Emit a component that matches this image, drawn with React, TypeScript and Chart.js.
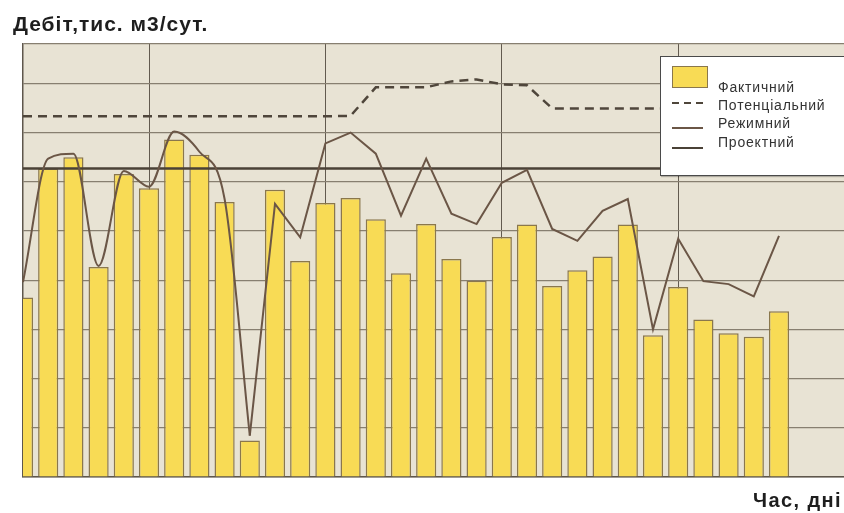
import React, { useEffect, useRef } from 'react';
import { Chart, registerables } from 'chart.js';

Chart.register(...registerables);

// Day labels (category axis); the plot runs past the right edge of the picture
const days: string[] = [
  '0', '1', '2', '3', '4', '5', '6', '7', '8', '9',
  '10', '11', '12', '13', '14', '15', '16', '17', '18', '19',
  '20', '21', '22', '23', '24', '25', '26', '27', '28', '29',
  '30', '31', '32', '33', '34', '35',
];

// Фактичний (bars)
const actual: number[] = [
  36.5, 62.7, 65.0, 42.7, 61.6, 58.7, 68.6, 65.5, 55.9, 7.4,
  58.4, 43.9, 55.7, 56.7, 52.4, 41.4, 51.4, 44.3, 39.9, 48.8,
  51.3, 38.8, 42.0, 44.8, 51.3, 28.8, 38.6, 32.0, 29.2, 28.5,
  33.7,
];

// Потенціальний (dashed)
const potential: number[] = [
  73.3, 73.3, 73.3, 73.3, 73.3, 73.3, 73.3, 73.3, 73.3, 73.3,
  73.3, 73.3, 73.3, 73.4, 79.2, 79.2, 79.2, 80.4, 80.8, 79.8,
  79.6, 74.9, 74.9, 74.9, 74.9, 74.9, 74.9, 74.9, 74.9, 74.9,
  74.9,
];

// Режимний (thin brown line)
const regime: number[] = [
  39.6, 64.7, 65.7, 42.9, 62.2, 59.0, 70.2, 66.1, 56.5, 8.4,
  55.5, 48.7, 67.8, 70.0, 65.7, 53.1, 64.7, 53.5, 51.4, 59.8,
  62.4, 50.4, 48.0, 54.1, 56.5, 30.0, 48.4, 39.8, 39.2, 36.7,
  49.0,
];

// Проектний (flat line)
const projected: number[] = [
  62.7, 62.7, 62.7, 62.7, 62.7, 62.7, 62.7, 62.7, 62.7, 62.7,
  62.7, 62.7, 62.7, 62.7, 62.7, 62.7, 62.7, 62.7, 62.7, 62.7,
  62.7, 62.7, 62.7, 62.7, 62.7, 62.7, 62.7, 62.7, 62.7, 62.7,
  62.7, 62.7, 62.7, 62.7, 62.7, 62.7,
];

const SMOOTH_END = 9; // the first part of the regime line is smoothed

const plotBg = {
  id: 'plotBg',
  beforeDraw(chart: any) {
    const { ctx, chartArea: a } = chart;
    ctx.save();
    ctx.fillStyle = '#e8e3d4';
    ctx.fillRect(a.left, a.top, a.right - a.left, a.bottom - a.top);
    ctx.restore();
  },
};

const legendText: React.CSSProperties = {
  position: 'absolute',
  left: 718,
  fontFamily: '"Liberation Sans", Arial, sans-serif',
  fontSize: 14,
  lineHeight: '14px',
  letterSpacing: 0.8,
  color: '#333',
  whiteSpace: 'nowrap',
};

export default function App() {
  const ref = useRef<HTMLCanvasElement | null>(null);

  useEffect(() => {
    if (!ref.current) return;
    const regimeSmooth = regime.map((v, i) => (i <= SMOOTH_END ? v : null));
    const regimeStraight = regime.map((v, i) => (i >= SMOOTH_END ? v : null));
    const chart = new Chart(ref.current, {
      type: 'bar',
      data: {
        labels: days,
        datasets: [
          {
            type: 'line',
            label: 'Потенціальний',
            data: potential,
            borderColor: '#4f463b',
            borderWidth: 2.5,
            borderDash: [9, 6],
            pointRadius: 0,
            tension: 0,
            order: 1,
          },
          {
            type: 'line',
            label: 'Проектний',
            data: projected,
            borderColor: '#4a4136',
            borderWidth: 2.5,
            pointRadius: 0,
            order: 2,
          },
          {
            type: 'line',
            label: 'Режимний',
            data: regimeSmooth,
            borderColor: '#6b5646',
            borderWidth: 2,
            pointRadius: 0,
            cubicInterpolationMode: 'monotone',
            order: 0,
          },
          {
            type: 'line',
            label: 'Режимний',
            data: regimeStraight,
            borderColor: '#6b5646',
            borderWidth: 2,
            pointRadius: 0,
            tension: 0,
            order: 0,
          },
          {
            type: 'bar',
            label: 'Фактичний',
            data: actual,
            backgroundColor: '#f8db55',
            borderColor: '#8a774c',
            borderWidth: 1.5,
            barPercentage: 0.8,
            categoryPercentage: 1,
            order: 10,
          },
        ] as any,
      },
      options: {
        responsive: false,
        animation: false,
        layout: { padding: { left: 23, top: 44, right: 0, bottom: 36 } },
        plugins: {
          legend: { display: false },
          tooltip: { enabled: false },
          title: { display: false },
        },
        scales: {
          x: {
            type: 'category',
            offset: false,
            grid: {
              offset: false,
              drawTicks: false,
              color: (c: any) => (c.index % 7 === 5 ? '#625a4f' : 'rgba(0,0,0,0)'),
              lineWidth: 1,
            },
            ticks: { display: false },
            border: { color: '#5e574c', width: 1.5 },
          },
          y: {
            min: 0,
            max: 88,
            ticks: { display: false, stepSize: 10 },
            grid: { drawTicks: false, color: '#877f70', lineWidth: 1.2 },
            border: { color: '#5e574c', width: 1.5 },
          },
        },
      },
      plugins: [plotBg],
    });
    return () => chart.destroy();
  }, []);

  return (
    <div
      style={{
        position: 'absolute',
        left: 0,
        top: 0,
        width: 844,
        height: 513,
        overflow: 'hidden',
        background: '#fff',
      }}
    >
      <canvas ref={ref} width={905} height={513} style={{ position: 'absolute', left: 0, top: 0 }} />
      <div
        style={{
          position: 'absolute',
          left: 13,
          top: 13,
          fontFamily: '"Liberation Sans", Arial, sans-serif',
          fontWeight: 'bold',
          fontSize: 21,
          lineHeight: '21px',
          letterSpacing: 1.0,
          color: '#1e1e1e',
          whiteSpace: 'nowrap',
        }}
      >
        Дебіт,тис. м3/сут.
      </div>
      <div
        style={{
          position: 'absolute',
          right: 2,
          top: 490,
          fontFamily: '"Liberation Sans", Arial, sans-serif',
          fontWeight: 'bold',
          fontSize: 20,
          lineHeight: '20px',
          letterSpacing: 1.4,
          color: '#1e1e1e',
          whiteSpace: 'nowrap',
        }}
      >
        Час, дні
      </div>
      {/* Legend box */}
      <div
        style={{
          position: 'absolute',
          left: 660,
          top: 56,
          width: 220,
          height: 118,
          background: '#fff',
          border: '1px solid #4a4a4a',
          boxShadow: '1px 1px 1px rgba(0,0,0,0.25)',
        }}
      />
      <div
        style={{
          position: 'absolute',
          left: 672,
          top: 66,
          width: 34,
          height: 20,
          background: '#f8db55',
          border: '1px solid #8a774c',
        }}
      />
      <div style={{ ...legendText, top: 80 }}>Фактичний</div>
      <div
        style={{
          position: 'absolute',
          left: 672,
          top: 102,
          width: 36,
          height: 2,
          background: 'repeating-linear-gradient(90deg, #4f463b 0 7px, transparent 7px 12px)',
        }}
      />
      <div style={{ ...legendText, top: 98 }}>Потенціальний</div>
      <div style={{ position: 'absolute', left: 672, top: 127, width: 31, height: 2, background: '#6b5646' }} />
      <div style={{ ...legendText, top: 116 }}>Режимний</div>
      <div style={{ position: 'absolute', left: 672, top: 147, width: 31, height: 2, background: '#4a4136' }} />
      <div style={{ ...legendText, top: 135 }}>Проектний</div>
    </div>
  );
}
